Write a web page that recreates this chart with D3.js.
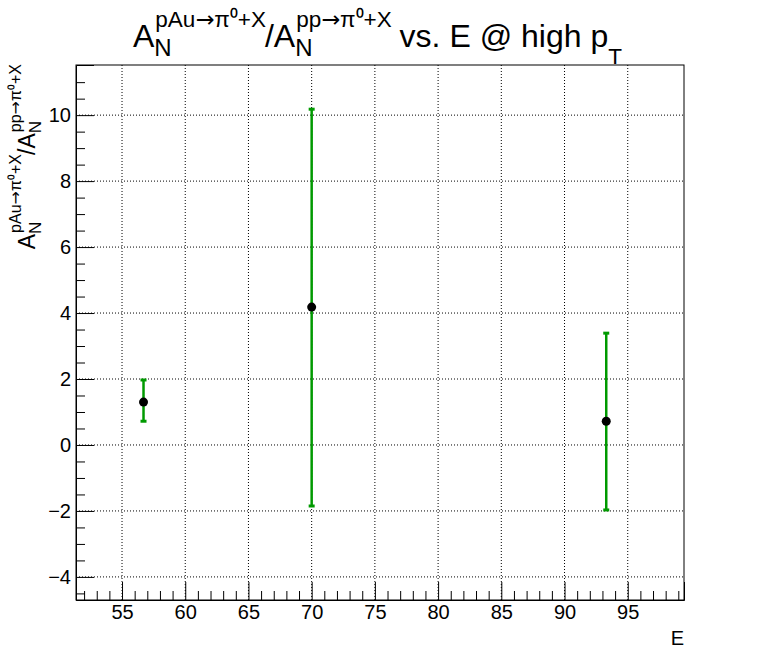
<!DOCTYPE html>
<html>
<head>
<meta charset="utf-8">
<script src="https://cdn.jsdelivr.net/npm/d3@7"></script>
<style>
  body { margin: 0; background: #fff; }
  svg { font-family: "Liberation Sans", Arial, sans-serif; }
</style>
</head>
<body>
<div id="chart-area"></div>
<script>
// data
const energies = [56.7, 70.0, 93.3]
const ratios = [1.3, 4.18, 0.72]
const errLow = [0.72, -1.85, -1.97]
const errHigh = [1.97, 10.18, 3.39]
const xTicks = [55, 60, 65, 70, 75, 80, 85, 90, 95]
const yTicks = [-4, -2, 0, 2, 4, 6, 8, 10]

const W = 761, H = 667
const MARGIN = { LEFT: 76, RIGHT: 77, TOP: 65, BOTTOM: 67 }
const WIDTH = W - MARGIN.LEFT - MARGIN.RIGHT
const HEIGHT = H - MARGIN.TOP - MARGIN.BOTTOM
const GREEN = "#009a00"

const svg = d3.select("#chart-area").append("svg")
	.attr("width", W)
	.attr("height", H)

const g = svg.append("g")
	.attr("transform", `translate(${MARGIN.LEFT}, ${MARGIN.TOP})`)

const x = d3.scaleLinear().domain([51.36, 99.45]).range([0, WIDTH])
const y = d3.scaleLinear().domain([-4.7, 11.52]).range([HEIGHT, 0])

// dotted grid
g.append("g").selectAll("line").data(xTicks).join("line")
	.attr("x1", d => x(d)).attr("x2", d => x(d))
	.attr("y1", 0).attr("y2", HEIGHT)
	.attr("stroke", "#000").attr("stroke-dasharray", "1,2")
g.append("g").selectAll("line").data(yTicks).join("line")
	.attr("x1", 0).attr("x2", WIDTH)
	.attr("y1", d => y(d)).attr("y2", d => y(d))
	.attr("stroke", "#000").attr("stroke-dasharray", "1,2")

// axes (ROOT style: ticks point inward)
const xMinor = d3.range(52, 100, 1).filter(v => v % 5 !== 0)
const yMinor = d3.range(-4.5, 11.5, 0.5).filter(v => v % 2 !== 0)

const xAxis = g.append("g").attr("transform", `translate(0, ${HEIGHT})`)
xAxis.call(d3.axisBottom(x).tickValues(xTicks).tickSize(-18).tickPadding(5).tickFormat(d3.format("d")))
g.append("g").attr("transform", `translate(0, ${HEIGHT})`)
	.call(d3.axisBottom(x).tickValues(xMinor).tickSize(-9).tickFormat(""))
	.select(".domain").remove()

const yAxis = g.append("g")
yAxis.call(d3.axisLeft(y).tickValues(yTicks).tickSize(-18))
g.append("g")
	.call(d3.axisLeft(y).tickValues(yMinor).tickSize(-9).tickFormat(""))
	.select(".domain").remove()

svg.selectAll(".tick text").attr("font-size", "20px").attr("fill", "#000")
	.attr("font-family", "Liberation Sans, Arial, sans-serif")
yAxis.selectAll(".tick text").attr("x", -5)

// frame
g.append("rect")
	.attr("width", WIDTH).attr("height", HEIGHT)
	.attr("fill", "none").attr("stroke", "#000").attr("stroke-width", 1)

// error bars
const pts = energies.map((e, i) => ({ e, v: ratios[i], lo: errLow[i], hi: errHigh[i] }))
g.selectAll(".err").data(pts).join("line")
	.attr("class", "err")
	.attr("x1", d => x(d.e)).attr("x2", d => x(d.e))
	.attr("y1", d => y(d.lo)).attr("y2", d => y(d.hi))
	.attr("stroke", GREEN).attr("stroke-width", 2.5)
g.selectAll(".capT").data(pts).join("line")
	.attr("x1", d => x(d.e) - 3).attr("x2", d => x(d.e) + 3)
	.attr("y1", d => y(d.hi)).attr("y2", d => y(d.hi))
	.attr("stroke", GREEN).attr("stroke-width", 3)
g.selectAll(".capB").data(pts).join("line")
	.attr("x1", d => x(d.e) - 3).attr("x2", d => x(d.e) + 3)
	.attr("y1", d => y(d.lo)).attr("y2", d => y(d.lo))
	.attr("stroke", GREEN).attr("stroke-width", 3)
g.selectAll(".pt").data(pts).join("circle")
	.attr("cx", d => x(d.e)).attr("cy", d => y(d.v))
	.attr("r", 4.5).attr("fill", "#000")

// TLatex-like text: pieces laid out left to right, sup/sub stacked
const ARROW = "\u2192"
function addText(grp, x0, y0, size, str) {
	const t = grp.append("text").attr("x", x0).attr("y", y0).attr("font-size", size)
	str.split(ARROW).forEach((s, i) => {
		if (i > 0) t.append("tspan").attr("font-family", "DejaVu Sans").text(ARROW)
		t.append("tspan").text(s)
	})
	return t.node().getComputedTextLength()
}
function latex(parent, parts, s) {
	const grp = parent.append("g")
	let cx = 0
	parts.forEach(p => {
		let w = 0
		if (p.t) w = addText(grp, cx, 0, s.main, p.t)
		if (p.sup) w = Math.max(w, addText(grp, cx + 1, s.supDy, s.sup, p.sup))
		if (p.sub) w = Math.max(w, addText(grp, cx, p.lone ? s.loneDy : s.subDy, p.lone ? s.sup : s.sub, p.sub))
		cx += w
	})
	return { grp, width: cx }
}

// title
const title = latex(svg, [
	{ t: "A" }, { sup: "pAu" + ARROW + "\u03c0\u2070+X", sub: "N" },
	{ t: "/A" }, { sup: "pp" + ARROW + "\u03c0\u2070+X", sub: "N" },
	{ t: "\u00a0vs. E @ high p" }, { sub: "T", lone: true }
], { main: 32, sup: 22.5, sub: 24, supDy: -20, subDy: 9, loneDy: 17 })
title.grp.attr("transform", `translate(${133}, 47)`)

// y label, right-aligned at the top of the axis
const ylab = latex(svg, [
	{ t: "A" }, { sup: "pAu" + ARROW + "\u03c0\u2070+X", sub: "N" },
	{ t: "/A" }, { sup: "pp" + ARROW + "\u03c0\u2070+X", sub: "N" }
], { main: 23, sup: 16, sub: 17, supDy: -14, subDy: 6, loneDy: 11 })
ylab.grp.attr("transform", `translate(35, ${MARGIN.TOP + ylab.width}) rotate(-90)`)

// x label
svg.append("text")
	.attr("x", MARGIN.LEFT + WIDTH).attr("y", 645)
	.attr("text-anchor", "end").attr("font-size", 20)
	.text("E")
</script>
</body>
</html>
